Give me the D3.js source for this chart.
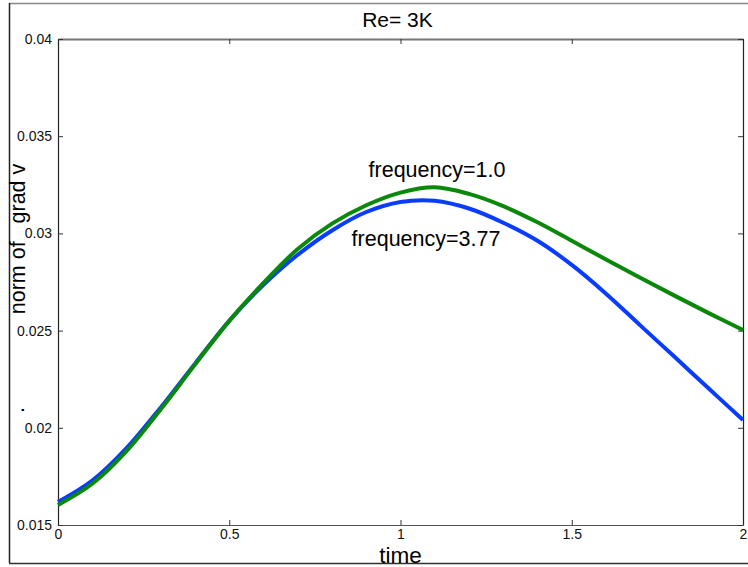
<!DOCTYPE html>
<html><head><meta charset="utf-8">
<script src="https://cdn.jsdelivr.net/npm/d3@7"></script>
<style>body{margin:0;background:#fff}svg{display:block;font-family:"Liberation Sans",Arial,sans-serif}</style>
</head><body><svg id="c" width="748" height="567"></svg>
<script>
const times = [0,0.1,0.2,0.3,0.4,0.5,0.6,0.7,0.8,0.9,1.0,1.1,1.2,1.3,1.4,1.5,1.6,1.7,1.8,1.9,2.0];
const freq377 = [0.01618,0.01728,0.01895,0.02105,0.02330,0.02550,0.02735,0.02890,0.03015,0.03110,0.03162,0.03168,0.03128,0.03055,0.02962,0.02838,0.02690,0.02527,0.02365,0.02202,0.02040];
const freq10  = [0.01603,0.01712,0.01880,0.02095,0.02325,0.02550,0.02745,0.02920,0.03050,0.03145,0.03210,0.03237,0.03203,0.03140,0.03057,0.02962,0.02866,0.02772,0.02680,0.02590,0.02503];
const xTicks = [0,0.5,1,1.5,2];
const xTickLabels = ["0","0.5","1","1.5","2"];
const yTicks = [0.015,0.02,0.025,0.03,0.035,0.04];
const yTickLabels = ["0.015","0.02","0.025","0.03","0.035","0.04"];
const title = "Re= 3K";

const svg = d3.select("#c");
const L=58,R=743,T=39,B=525;
const x = d3.scaleLinear().domain([0,2]).range([L,R]);
const y = d3.scaleLinear().domain([0.015,0.04]).range([B,T]);

// outer frame
svg.append("line").attr("x1",9).attr("x2",748).attr("y1",3.5).attr("y2",3.5).attr("stroke","#888").attr("stroke-width",1.5);
svg.append("line").attr("x1",9.5).attr("x2",9.5).attr("y1",3).attr("y2",563).attr("stroke","#222").attr("stroke-width",1.5);
svg.append("line").attr("x1",9).attr("x2",748).attr("y1",563.5).attr("y2",563.5).attr("stroke","#333").attr("stroke-width",1.5);

// axes (MATLAB style box with inward ticks)
const tl=5;
const gB = svg.append("g").attr("transform",`translate(0,${B})`)
  .call(d3.axisBottom(x).tickValues(xTicks).tickFormat((d,i)=>xTickLabels[i]).tickSizeInner(-tl).tickSizeOuter(0).tickPadding(4));
const gT = svg.append("g").attr("transform",`translate(0,${T})`)
  .call(d3.axisTop(x).tickValues(xTicks).tickFormat("").tickSizeInner(-tl).tickSizeOuter(0));
const gL = svg.append("g").attr("transform",`translate(${L},0)`)
  .call(d3.axisLeft(y).tickValues(yTicks).tickFormat((d,i)=>yTickLabels[i]).tickSizeInner(-tl).tickSizeOuter(0).tickPadding(6));
const gR = svg.append("g").attr("transform",`translate(${R},0)`)
  .call(d3.axisRight(y).tickValues(yTicks).tickFormat("").tickSizeInner(-tl).tickSizeOuter(0));
[gB,gT,gL,gR].forEach(g=>{
  g.selectAll("path.domain").attr("stroke","#222").attr("stroke-width",1.2);
  g.selectAll(".tick line").attr("stroke","#333");
  g.selectAll("text").attr("font-size",14).attr("fill","#111").attr("font-family","'Liberation Sans',Arial,sans-serif");
});
gT.select("path.domain").attr("stroke","#777").attr("stroke-width",2);
gB.select("path.domain").attr("stroke","#555");

const line = d3.line().x((d,i)=>x(times[i])).y(d=>y(d)).curve(d3.curveCatmullRom.alpha(0.5));
svg.append("path").datum(freq377).attr("d",line).attr("fill","none").attr("stroke","#0a3cff").attr("stroke-width",4);
svg.append("path").datum(freq10).attr("d",line).attr("fill","none").attr("stroke","#0a880a").attr("stroke-width",4);

svg.append("text").attr("x",437).attr("y",177).attr("text-anchor","middle").attr("font-size",21.5).text("frequency=1.0");
svg.append("text").attr("x",426).attr("y",246).attr("text-anchor","middle").attr("font-size",21.5).text("frequency=3.77");

svg.append("text").attr("x",397.5).attr("y",26.5).attr("text-anchor","middle").attr("font-size",21).text(title);
svg.append("text").attr("x",400.5).attr("y",562.5).attr("text-anchor","middle").attr("font-size",22.5).text("time");
svg.append("text").attr("transform","translate(25,239) rotate(-90)").attr("text-anchor","middle").attr("font-size",21.5).attr("xml:space","preserve").text("norm of   grad v");
svg.append("text").attr("transform","translate(24,410) rotate(-90)").attr("text-anchor","middle").attr("font-size",21.5).text(".");
</script></body></html>
